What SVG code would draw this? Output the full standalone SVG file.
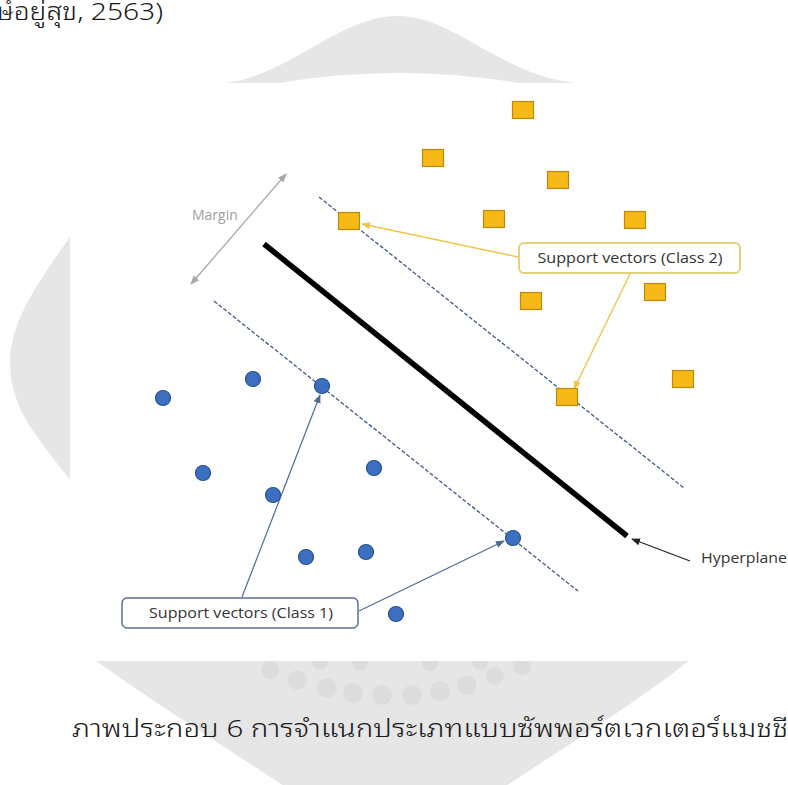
<svg xmlns="http://www.w3.org/2000/svg" width="788" height="785" viewBox="0 0 788 785">
<defs>
<style>
.lbl{font-family:"Open Sans","Noto Sans",sans-serif;font-size:14px;fill:#333;}
.thai{font-family:"Noto Sans Thai Looped","Sarabun","Loma","Noto Sans Thai","Noto Sans",sans-serif;font-size:24px;font-weight:300;fill:#1a1a1a;}
.sq{fill:#f6b916;stroke:#b98a10;stroke-width:1.2;}
.dot{fill:#3d6fc1;stroke:#24518f;stroke-width:1.2;}
.dash{stroke:#3e5a80;stroke-width:1.3;stroke-dasharray:4 2;fill:none;}
.wm{fill:#dcdcdc;}
</style>
<marker id="ay" viewBox="0 0 10 10" refX="9" refY="5" markerWidth="9" markerHeight="9" markerUnits="userSpaceOnUse" orient="auto"><path d="M0,1 L10,5 L0,9 Z" fill="#eec54a"/></marker>
<marker id="ab" viewBox="0 0 10 10" refX="9" refY="5" markerWidth="9" markerHeight="9" markerUnits="userSpaceOnUse" orient="auto"><path d="M0,1 L10,5 L0,9 Z" fill="#4f6b93"/></marker>
<marker id="ak" viewBox="0 0 10 10" refX="9" refY="5" markerWidth="9" markerHeight="9" markerUnits="userSpaceOnUse" orient="auto"><path d="M0,1 L10,5 L0,9 Z" fill="#222"/></marker>
<marker id="ag" viewBox="0 0 10 10" refX="9" refY="5" markerWidth="9" markerHeight="9" markerUnits="userSpaceOnUse" orient="auto-start-reverse"><path d="M0,1 L10,5 L0,9 Z" fill="#a8a8a8"/></marker>
</defs>
<rect width="788" height="785" fill="#fff"/>
<g id="watermark">
<path fill="#e6e6e6" d="M 225 83 C 290 75, 340 16, 397 16 C 455 16, 500 75, 575 83 L 788 83 L 788 660 L 690 660 C 640 700, 560 750, 500 790 L 290 790 C 230 750, 150 700, 95 660 L 70 660 L 70 480 C 40 440, 10 410, 10 363 C 10 320, 40 280, 70 237 L 70 83 Z"/>
<path fill="#fff" d="M 280 83 Q 395 63 520 83 Z"/>
<g class="wm">
<circle cx="270" cy="670" r="9"/><circle cx="297" cy="680" r="9.5"/><circle cx="327" cy="688" r="10"/><circle cx="353" cy="693" r="10"/><circle cx="382" cy="695" r="10"/><circle cx="412" cy="695" r="10"/><circle cx="440" cy="691" r="10"/><circle cx="467" cy="685" r="9.5"/><circle cx="495" cy="676" r="9"/><circle cx="522" cy="667" r="8.5"/>
<circle cx="320" cy="662" r="8"/><circle cx="360" cy="663" r="8"/><circle cx="430" cy="663" r="8"/><circle cx="480" cy="662" r="8"/>
</g>
</g>
<rect id="plot" x="70" y="83" width="718" height="578" fill="#fff"/>
<text class="thai" x="-5" y="20" textLength="168" lengthAdjust="spacingAndGlyphs">ษ์อยู่สุข, 2563)</text>
<g id="connectors">
<line x1="264" y1="244" x2="627" y2="536" stroke="#000" stroke-width="5.5"/>
<line class="dash" x1="319" y1="197" x2="684" y2="488"/>
<line class="dash" x1="214" y1="301" x2="578" y2="591"/>
<line x1="191" y1="284" x2="286" y2="174" stroke="#a8a8a8" stroke-width="1.3" marker-start="url(#ag)" marker-end="url(#ag)"/>
<line x1="518" y1="257" x2="362" y2="224" stroke="#eec54a" stroke-width="1.4" marker-end="url(#ay)"/>
<line x1="630" y1="274" x2="574" y2="389" stroke="#eec54a" stroke-width="1.4" marker-end="url(#ay)"/>
<line x1="242" y1="597" x2="320" y2="395" stroke="#4f6b93" stroke-width="1.2" marker-end="url(#ab)"/>
<line x1="359" y1="611" x2="504" y2="541" stroke="#4f6b93" stroke-width="1.2" marker-end="url(#ab)"/>
<line x1="690" y1="561" x2="632" y2="539" stroke="#222" stroke-width="1.2" marker-end="url(#ak)"/>
</g>
<g id="class2">
<rect class="sq" x="512.5" y="101.5" width="21" height="17"/>
<rect class="sq" x="422.5" y="149.5" width="21" height="17"/>
<rect class="sq" x="547.5" y="171.5" width="21" height="17"/>
<rect class="sq" x="338.5" y="212.5" width="21" height="17"/>
<rect class="sq" x="483.5" y="210.5" width="21" height="17"/>
<rect class="sq" x="624.5" y="211.5" width="21" height="17"/>
<rect class="sq" x="520.5" y="292.5" width="21" height="17"/>
<rect class="sq" x="644.5" y="283.5" width="21" height="17"/>
<rect class="sq" x="672.5" y="370.5" width="21" height="17"/>
<rect class="sq" x="556.5" y="388.5" width="21" height="17"/>
</g>
<g id="class1">
<circle class="dot" cx="163" cy="398" r="7.5"/>
<circle class="dot" cx="253" cy="379" r="7.5"/>
<circle class="dot" cx="322" cy="386" r="7.5"/>
<circle class="dot" cx="203" cy="473" r="7.5"/>
<circle class="dot" cx="374" cy="468" r="7.5"/>
<circle class="dot" cx="273" cy="495" r="7.5"/>
<circle class="dot" cx="306" cy="557" r="7.5"/>
<circle class="dot" cx="366" cy="552" r="7.5"/>
<circle class="dot" cx="513" cy="538" r="7.5"/>
<circle class="dot" cx="396" cy="614" r="7.5"/>
</g>
<g id="margin-label"><text class="lbl" x="192" y="220" style="fill:#a0a0a0">Margin</text></g>
<g id="sv2">
<rect x="519" y="243" width="221" height="30" rx="5" fill="#fff" stroke="#e3d07d" stroke-width="2"/>
<text class="lbl" x="630" y="263" text-anchor="middle" textLength="185" lengthAdjust="spacingAndGlyphs">Support vectors (Class 2)</text>
</g>
<g id="sv1">
<rect x="122" y="598" width="236" height="30" rx="5" fill="#fff" stroke="#5a7090" stroke-width="1.5"/>
<text class="lbl" x="241" y="618" text-anchor="middle" textLength="184" lengthAdjust="spacingAndGlyphs">Support vectors (Class 1)</text>
</g>
<g id="hyperplane-label"><text class="lbl" x="701" y="563" textLength="86" lengthAdjust="spacingAndGlyphs">Hyperplane</text></g>
<text class="thai" x="72" y="737" textLength="716" lengthAdjust="spacingAndGlyphs">ภาพประกอบ 6 การจำแนกประเภทแบบซัพพอร์ตเวกเตอร์แมชชี</text>
</svg>
